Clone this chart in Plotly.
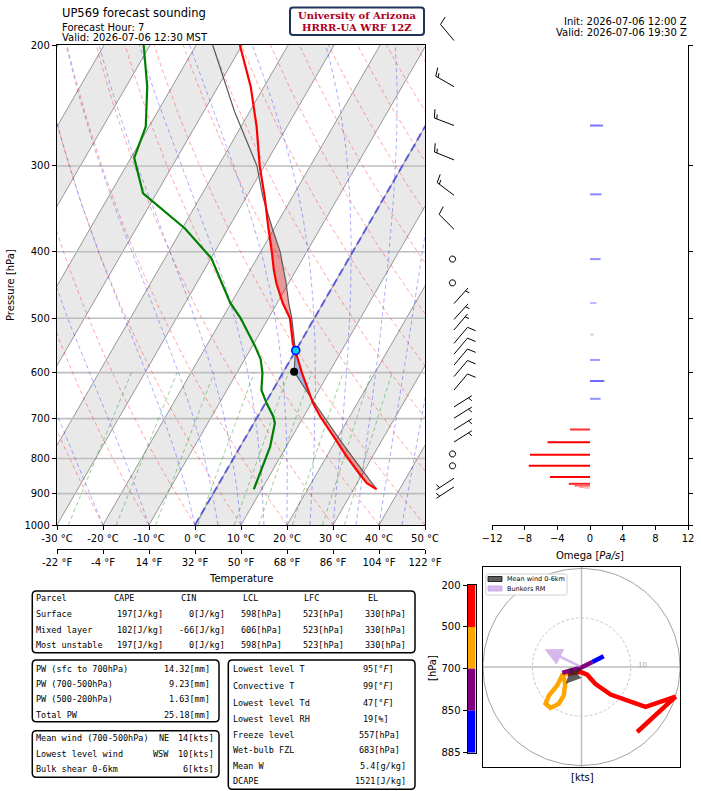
import numpy as np
import plotly.graph_objects as go

W, H = 701, 791

# sounding -------------------------------------------------------------------
p_env = [887, 869, 845, 795, 743, 695, 665, 601, 567, 544, 500, 475, 445, 425, 400, 368, 333, 300, 263, 230, 200]
t_env = [35.0, 32.1, 29.6, 24.4, 19.0, 13.6, 10.4, 4.2, 0.9, -1.5, -5.3, -8.8, -12.6, -14.9, -17.6, -21.5, -26.0, -31.0, -36.6, -42.9, -50.5]

p_dew = [887, 840, 769, 711, 695, 665, 636, 601, 574, 549, 500, 475, 425, 409, 370, 329, 292, 263, 230, 200]
td_dew = [8.3, 7.6, 6.5, 4.6, 3.4, 0.3, -2.5, -4.4, -6.5, -9.4, -16.0, -20.2, -27.3, -29.9, -39.4, -52.9, -59.3, -60.7, -65.4, -71.4]

p_parcel = [887, 850, 800, 750, 700, 650, 598, 558, 523, 500, 475, 444, 400, 370, 333, 300, 250, 200]
t_parcel = [35.0, 31.4, 26.1, 20.6, 14.9, 8.9, 2.3, 0.0, -2.9, -4.9, -7.5, -10.6, -15.8, -20.4, -26.4, -31.6, -43.3, -56.4]

lcl_p, lcl_t = 598, 2.3
frz_p, frz_t = 557, 0.0
lfc_p, el_p = 523, 330

wind_p = [197, 230, 262, 294, 331, 371, 410, 444, 476, 502, 520, 544, 564, 585, 608, 636, 673, 699, 727, 757, 788, 820, 855, 880]
wind_kt = [10, 15, 15, 15, 15, 10, 0, 0, 5, 5, 5, 10, 10, 10, 10, 10, 5, 5, 5, 5, 0, 0, 5, 5]
wind_dir = [320, 300, 291, 292, 307, 315, 0, 0, 42, 42, 40, 40, 40, 40, 40, 40, 58, 58, 58, 58, 0, 0, 237, 237]

omega_p = [262, 330, 410, 475, 528, 575, 617, 655, 726, 758, 790, 820, 851, 871, 876, 880, 883]
omega_pas = [1.6, 1.4, 1.3, 0.8, 0.5, 1.2, 1.75, 1.3, -2.45, -5.2, -7.35, -7.5, -4.9, -2.6, -1.9, -1.3, -0.7]

hodo_p = [885, 850, 800, 750, 700, 670, 640, 610, 590, 570, 555, 540, 520, 500, 470, 440, 400, 350, 300, 250, 200]
hodo_u = [4.5, 2.2, -0.2, -2.2, -3.9, -3.3, -3.6, -4.6, -6.3, -7.3, -6.6, -4.9, -3.9, -2.9, -0.2, 1.15, 2.8, 5.9, 13.0, 19.1, 11.3]
hodo_v = [2.2, 1.0, -0.2, -0.7, -1.2, -3.4, -5.75, -7.45, -8.3, -7.45, -5.75, -3.7, -1.7, -1.36, -1.0, -1.56, -3.4, -5.6, -8.1, -6.0, -13.2]
hodo_bins = [200, 500, 700, 850, 885]
hodo_colors = ["red", "orange", "purple", "blue"]
mean_wind_uv = (-3.2, -3.4)
bunkers_uv = (-7.5, 3.6)

temp_c_ticks = [-30, -20, -10, 0, 10, 20, 30, 40, 50]
temp_f_ticks = [-22, -4, 14, 32, 50, 68, 86, 104, 122]
pres_ticks = [200, 300, 400, 500, 600, 700, 800, 900, 1000]
omega_ticks = [-12, -8, -4, 0, 4, 8, 12]

parcel_head = ["Parcel", "CAPE", "CIN", "LCL", "LFC", "EL"]
parcel_rows = [
    ["Surface", "197[J/kg]", "0[J/kg]", "598[hPa]", "523[hPa]", "330[hPa]"],
    ["Mixed layer", "102[J/kg]", "-66[J/kg]", "606[hPa]", "523[hPa]", "330[hPa]"],
    ["Most unstable", "197[J/kg]", "0[J/kg]", "598[hPa]", "523[hPa]", "330[hPa]"],
]
pw_labels = ["PW (sfc to 700hPa)", "PW (700-500hPa)", "PW (500-200hPa)", "Total PW"]
pw_values = ["14.32[mm]", "9.23[mm]", "1.63[mm]", "25.18[mm]"]
wind_labels = ["Mean wind (700-500hPa)", "Lowest level wind", "Bulk shear 0-6km"]
wind_dirs_txt = ["NE", "WSW", ""]
wind_values = ["14[kts]", "10[kts]", "6[kts]"]
idx_labels = ["Lowest level T", "Convective T", "Lowest level Td", "Lowest level RH",
              "Freeze level", "Wet-bulb FZL", "Mean W", "DCAPE"]
idx_values = ["95[°<i>F</i>]", "99[°<i>F</i>]", "47[°<i>F</i>]", "19[%]",
              "557[hPa]", "683[hPa]", "5.4[g/kg]", "1521[J/kg]"]

# geometry helpers --------------------------------------------------------------
def X(px):
    return px / W

def Y(py):
    return 1 - py / H

SKEW = np.tan(np.radians(30)) * (480 / np.log(5)) / (368 / 80)
KLOG = np.log10(5) / 480  # log10(p) per pixel

def skx(t, p):
    return np.asarray(t, float) + SKEW * np.log(1000.0 / np.asarray(p, float))

def joined(lines):
    xs, ys = [], []
    for a, b in lines:
        xs += list(a) + [None]
        ys += list(b) + [None]
    return xs, ys

fig = go.Figure()
SK = dict(xaxis="x", yaxis="y")

# isotherm bands
for t1 in range(-100, 50, 20):
    pb = [1000, 1000, 200, 200, 1000]
    tb = [t1, t1 + 10, t1 + 10, t1, t1]
    fig.add_trace(go.Scatter(x=skx(tb, pb), y=pb, mode="lines", fill="toself",
                             fillcolor="rgb(233,233,233)", line=dict(width=0),
                             hoverinfo="skip", **SK))

# isotherms
iso = [(skx([t, t], [1000, 200]), [1000, 200]) for t in range(-120, 51, 10)]
xs, ys = joined(iso)
fig.add_trace(go.Scatter(x=xs, y=ys, mode="lines", line=dict(color="rgb(150,150,150)", width=1),
                         hoverinfo="skip", **SK))

# horizontal pressure lines
hl = [([-200, 200], [p, p]) for p in pres_ticks[1:-1]]
xs, ys = joined(hl)
fig.add_trace(go.Scatter(x=xs, y=ys, mode="lines", line=dict(color="rgb(190,190,190)", width=1.6),
                         hoverinfo="skip", **SK))

Rd, Cp, Lv, EPS = 287.04749, 1004.6662, 2.50084e6, 0.62195691
pg = np.linspace(1000, 200, 81)

# dry adiabats
dry = []
for t0 in range(-30, 251, 10):
    tk = (t0 + 273.15) * (pg / 1000) ** (Rd / Cp) - 273.15
    dry.append((skx(tk, pg), pg))
xs, ys = joined(dry)
fig.add_trace(go.Scatter(x=xs, y=ys, mode="lines", line=dict(color="rgba(255,0,0,0.35)", width=1, dash="4px,3px"),
                         hoverinfo="skip", **SK))

# moist adiabats
def dtdp(p, T):
    es = 6.112 * np.exp(17.67 * (T - 273.15) / (T - 29.65))
    rs = EPS * es / (p - es)
    return (Rd * T + Lv * rs) / (Cp + Lv * Lv * rs * EPS / (Rd * T * T)) / p

m0 = np.array(list(range(-30, 0, 10)) + list(range(0, 51, 5)), float) + 273.15
Tm = [m0.copy()]
T = m0.copy()
for i in range(len(pg) - 1):
    h = pg[i + 1] - pg[i]
    k1 = dtdp(pg[i], T)
    k2 = dtdp(pg[i] + h / 2, T + h / 2 * k1)
    k3 = dtdp(pg[i] + h / 2, T + h / 2 * k2)
    k4 = dtdp(pg[i] + h, T + h * k3)
    T = T + h / 6 * (k1 + 2 * k2 + 2 * k3 + k4)
    Tm.append(T.copy())
Tm = np.array(Tm) - 273.15
moist = [(skx(Tm[:, j], pg), pg) for j in range(Tm.shape[1])]
xs, ys = joined(moist)
fig.add_trace(go.Scatter(x=xs, y=ys, mode="lines", line=dict(color="rgba(0,0,255,0.32)", width=1, dash="4px,3px"),
                         hoverinfo="skip", **SK))

# mixing ratio lines
pm = np.linspace(1000, 600, 30)
mix = []
for w in [0.0004, 0.001, 0.002, 0.004, 0.007, 0.01, 0.016, 0.024, 0.032]:
    e = pm * w / (EPS + w)
    le = np.log(e / 6.112)
    td = 243.5 * le / (17.67 - le)
    mix.append((skx(td, pm), pm))
xs, ys = joined(mix)
fig.add_trace(go.Scatter(x=xs, y=ys, mode="lines", line=dict(color="rgba(0,140,0,0.4)", width=1, dash="4px,3px"),
                         hoverinfo="skip", **SK))

# 0 degC isotherm
fig.add_trace(go.Scatter(x=skx([0, 0], [1000, 200]), y=[1000, 200], mode="lines",
                         line=dict(color="rgba(60,60,220,0.75)", width=2, dash="8px,4px"),
                         hoverinfo="skip", **SK))

# CAPE / CIN shading
pp = np.exp(np.linspace(np.log(887), np.log(200), 500))

def on_grid(p_src, v_src):
    return np.interp(np.log(pp), np.log(np.array(p_src[::-1], float)), np.array(v_src[::-1], float))

te = on_grid(p_env, t_env)
tp = on_grid(p_parcel, t_parcel)
cape = (tp >= te) & (pp >= el_p)
cin = (tp < te) & (pp >= lfc_p)
for mask, col in [(cape, "rgba(225,0,0,0.35)"), (cin, "rgba(40,90,230,0.35)")]:
    idx = np.where(mask)[0]
    if len(idx) == 0:
        continue
    runs = np.split(idx, np.where(np.diff(idx) > 1)[0] + 1)
    for r in runs:
        if len(r) < 2:
            continue
        r = np.arange(max(r[0] - 1, 0), min(r[-1] + 2, len(pp)))
        px_ = np.concatenate([skx(te[r], pp[r]), skx(tp[r][::-1], pp[r][::-1])])
        py_ = np.concatenate([pp[r], pp[r][::-1]])
        fig.add_trace(go.Scatter(x=px_, y=py_, mode="lines", fill="toself", fillcolor=col,
                                 line=dict(width=0), hoverinfo="skip", **SK))

fig.add_trace(go.Scatter(x=skx(t_parcel, p_parcel), y=p_parcel, mode="lines",
                         line=dict(color="rgb(90,90,90)", width=1.2), **SK))
fig.add_trace(go.Scatter(x=skx(t_env, p_env), y=p_env, mode="lines",
                         line=dict(color="red", width=2.2), **SK))
fig.add_trace(go.Scatter(x=skx(td_dew, p_dew), y=p_dew, mode="lines",
                         line=dict(color="green", width=2.2), **SK))
fig.add_trace(go.Scatter(x=skx([lcl_t], [lcl_p]), y=[lcl_p], mode="markers",
                         marker=dict(color="black", size=8), **SK))
fig.add_trace(go.Scatter(x=skx([frz_t], [frz_p]), y=[frz_p], mode="markers",
                         marker=dict(color="rgb(0,200,230)", size=8, line=dict(color="blue", width=1.5)), **SK))

# dummy for the deg F axis
fig.add_trace(go.Scatter(x=[-30, 50], y=[1000, 1000], mode="lines", line=dict(width=0),
                         xaxis="x2", yaxis="y", hoverinfo="skip"))

# wind barbs -------------------------------------------------------------------
BX, BL = 454, 21.0
bx, by = [], []
for p0, spd, d in zip(wind_p, wind_kt, wind_dir):
    r5 = int(round(spd / 5.0) * 5)
    if r5 == 0:
        ang = np.linspace(0, 2 * np.pi, 25)
        rr = 0.15 * BL
        bx += list(BX - 1.5 + rr * np.cos(ang)) + [None]
        by += list(p0 * 10 ** (-rr * np.sin(ang) * KLOG)) + [None]
        continue
    fh, fw, sp = 0.4 * BL, 0.25 * BL, 0.125 * BL
    segs = [[(0, 0), (0, BL)]]
    off = BL
    for i in range(r5 // 10):
        segs.append([(0, off), (fh, off + fw / 2)])
        off -= sp
    if r5 % 10 >= 5:
        if off == BL:
            off -= 1.5 * sp
        segs.append([(0, off), (fh / 2, off + fw / 4)])
    th = -np.radians(d)
    for seg in segs:
        for lx, ly in seg:
            mx = lx * np.cos(th) - ly * np.sin(th)
            my = lx * np.sin(th) + ly * np.cos(th)
            bx.append(BX + mx)
            by.append(p0 * 10 ** (-my * KLOG))
        bx.append(None)
        by.append(None)
fig.add_trace(go.Scatter(x=bx, y=by, mode="lines", line=dict(color="black", width=1),
                         xaxis="x3", yaxis="y3", hoverinfo="skip"))

# omega ------------------------------------------------------------------------
for p0, om in zip(omega_p, omega_pas):
    v = max(-1.0, min(1.0, om / 3.0))
    if v >= 0:
        c = "rgb(%d,%d,255)" % (255 * (1 - v), 255 * (1 - v))
    else:
        c = "rgb(255,%d,%d)" % (255 * (1 + v), 255 * (1 + v))
    fig.add_trace(go.Scatter(x=[0, om], y=[p0, p0], mode="lines", line=dict(color=c, width=2),
                             xaxis="x4", yaxis="y4", hoverinfo="skip"))

# hodograph --------------------------------------------------------------------
HD = dict(xaxis="x5", yaxis="y5")
ang = np.linspace(0, 2 * np.pi, 181)
fig.add_trace(go.Scatter(x=[-25, 25, None, 0, 0], y=[0, 0, None, -25, 25], mode="lines",
                         line=dict(color="rgb(190,190,190)", width=1.5), hoverinfo="skip", **HD))
fig.add_trace(go.Scatter(x=20 * np.cos(ang), y=20 * np.sin(ang), mode="lines",
                         line=dict(color="rgb(160,160,160)", width=1), hoverinfo="skip", **HD))
fig.add_trace(go.Scatter(x=10 * np.cos(ang), y=10 * np.sin(ang), mode="lines",
                         line=dict(color="rgb(200,200,200)", width=1, dash="3px,2px"), hoverinfo="skip", **HD))
hp = np.array(hodo_p)
for i, col in enumerate(hodo_colors):
    lo, hi = hodo_bins[i], hodo_bins[i + 1]
    sel = (hp >= lo) & (hp <= hi)
    fig.add_trace(go.Scatter(x=np.array(hodo_u)[sel], y=np.array(hodo_v)[sel], mode="lines",
                             line=dict(color=col, width=4.5), hoverinfo="skip", **HD))

# colorbar of the hodograph layers
fig.add_trace(go.Bar(x=[0] * len(hodo_colors), y=[1] * len(hodo_colors), base=list(range(len(hodo_colors))),
                     width=1, marker=dict(color=hodo_colors, line=dict(width=0)),
                     xaxis="x6", yaxis="y6", hoverinfo="skip"))

# annotations & shapes -----------------------------------------------------------
ann, shp = [], []

def note(x, y, text, size=10, xa="left", family="DejaVu Sans", color="black", **kw):
    ann.append(dict(x=X(x), y=Y(y), xref="paper", yref="paper", text=text, showarrow=False,
                    xanchor=xa, yanchor="middle", borderpad=0,
                    font=dict(family=family, size=size, color=color), **kw))

def rbox(x0, y0, x1, y1, r=4, lc="black", lw=1.5, fill="white"):
    path = (f"M {X(x0 + r)},{Y(y0)} L {X(x1 - r)},{Y(y0)} Q {X(x1)},{Y(y0)} {X(x1)},{Y(y0 + r)} "
            f"L {X(x1)},{Y(y1 - r)} Q {X(x1)},{Y(y1)} {X(x1 - r)},{Y(y1)} "
            f"L {X(x0 + r)},{Y(y1)} Q {X(x0)},{Y(y1)} {X(x0)},{Y(y1 - r)} "
            f"L {X(x0)},{Y(y0 + r)} Q {X(x0)},{Y(y0)} {X(x0 + r)},{Y(y0)} Z")
    shp.append(dict(type="path", xref="paper", yref="paper", path=path,
                    line=dict(color=lc, width=lw), fillcolor=fill, layer="above"))

note(61, 12.5, "UP569 forecast sounding", size=11.5)
note(61, 27, "Forecast Hour: 7", size=10)
note(61, 38, "Valid: 2026-07-06 12:30 MST", size=10)
note(688, 21.5, "Init: 2026-07-06 12:00 Z", size=10, xa="right")
note(688, 33, "Valid: 2026-07-06 19:30 Z", size=10, xa="right")

rbox(290, 7.5, 424, 35, r=3, lc="rgb(30,50,90)", lw=2)
note(357, 15.5, "<b>University of Arizona</b>", size=10, xa="center", family="DejaVu Serif", color="rgb(170,0,30)")
note(357, 27, "<b>HRRR-UA WRF 12Z</b>", size=10, xa="center", family="DejaVu Serif", color="rgb(170,0,30)")

note(10, 285, "Pressure [hPa]", size=10, xa="center", textangle=-90)
note(241, 578, "Temperature", size=10, xa="center")
note(590, 555, "Omega [<i>Pa/s</i>]", size=10, xa="center")

# tables
MONO = "DejaVu Sans Mono"
FS = 8.5
rbox(32.3, 591, 415, 652.7)
head_x = [35, 113.3, 180, 241.7, 303.3, 366.7]
val_x = [163.5, 225.5, 283, 344.5, 406.5]
for hx, h in zip(head_x, parcel_head):
    note(hx, 598.3, h, size=FS, family=MONO)
for ry, row in zip([614, 629.5, 645], parcel_rows):
    note(35, ry, row[0], size=FS, family=MONO)
    for vx, v in zip(val_x, row[1:]):
        note(vx, ry, v, size=FS, family=MONO, xa="right")

rbox(32.3, 660, 219, 721.7)
for ry, lab, val in zip([668.7, 683.7, 699, 715], pw_labels, pw_values):
    note(35, ry, lab, size=FS, family=MONO)
    note(210.5, ry, val, size=FS, family=MONO, xa="right")

rbox(32.3, 730.7, 219, 777.3)
for ry, lab, dd, val in zip([738.3, 754, 769.3], wind_labels, wind_dirs_txt, wind_values):
    note(35, ry, lab, size=FS, family=MONO)
    if dd:
        note(169.5, ry, dd, size=FS, family=MONO, xa="right")
    note(214.5, ry, val, size=FS, family=MONO, xa="right")

rbox(228.3, 660, 415, 789.3)
idx_y = [669.3, 686, 702.7, 718.7, 734.7, 750, 765.7, 781]
idx_right = [395.5, 395.5, 395.5, 390, 400.5, 400.5, 406.5, 406.5]
for ry, lab, val, rx in zip(idx_y, idx_labels, idx_values, idx_right):
    note(231.7, ry, lab, size=FS, family=MONO)
    note(rx, ry, val, size=FS, family=MONO, xa="right")

# hodograph extras
note(637, 665, "10", size=7, color="rgb(170,170,170)")
note(582, 777, "[kts]", size=10, xa="center")
note(432, 668, "[hPa]", size=10, xa="center", textangle=-90)
ann.append(dict(x=mean_wind_uv[0], y=mean_wind_uv[1], ax=0, ay=0, xref="x5", yref="y5",
                axref="x5", ayref="y5", text="", showarrow=True, arrowhead=2, arrowsize=1,
                arrowwidth=3, arrowcolor="rgba(40,40,40,0.75)", standoff=0))
ann.append(dict(x=bunkers_uv[0], y=bunkers_uv[1], ax=0, ay=0, xref="x5", yref="y5",
                axref="x5", ayref="y5", text="", showarrow=True, arrowhead=2, arrowsize=1.4,
                arrowwidth=2.5, arrowcolor="rgba(200,160,230,0.75)", standoff=0))
rbox(485.7, 574, 567, 595, r=2, lc="rgb(210,210,210)", lw=1)
shp.append(dict(type="rect", xref="paper", yref="paper", x0=X(488), x1=X(502), y0=Y(581.5), y1=Y(576.5),
                fillcolor="rgba(40,40,40,0.75)", line=dict(color="black", width=0.8), layer="above"))
shp.append(dict(type="rect", xref="paper", yref="paper", x0=X(488), x1=X(502), y0=Y(591), y1=Y(586),
                fillcolor="rgba(200,160,230,0.75)", line=dict(color="rgba(200,160,230,1)", width=0.8), layer="above"))
note(506, 579, "Mean wind 0-6km", size=6.5)
note(506, 588.5, "Bunkers RM", size=6.5)

AX = dict(showgrid=False, zeroline=False, linecolor="black", tickcolor="black", automargin=False,
          tickfont=dict(family="DejaVu Sans", size=10, color="black"))
sky = dict(domain=[Y(525), Y(45)], type="log", range=[3, np.log10(200)])

fig.update_layout(
    template="none",
    width=W, height=H, margin=dict(l=0, r=0, t=0, b=0, pad=0), autosize=False,
    paper_bgcolor="white", plot_bgcolor="rgba(0,0,0,0)", showlegend=False,
    font=dict(family="DejaVu Sans", size=10, color="black"),
    xaxis=dict(domain=[X(57), X(425)], range=[-30, 50], anchor="y", tickvals=temp_c_ticks,
               ticktext=[f"{t} °C" for t in temp_c_ticks], ticks="outside", ticklen=4,
               showline=True, mirror=True, linewidth=1.3, **AX),
    yaxis=dict(anchor="x", tickvals=pres_ticks, ticktext=[str(p) for p in pres_ticks],
               ticks="outside", ticklen=4, showline=True, mirror=True, linewidth=1.3, **sky, **AX),
    xaxis2=dict(overlaying="x", anchor="free", position=Y(549), side="bottom", range=[-30, 50],
                tickvals=temp_c_ticks, ticktext=[f"{f} °F" for f in temp_f_ticks], ticks="outside",
                ticklen=4, showline=True, linewidth=1.3, **AX),
    xaxis3=dict(domain=[X(427), X(492)], range=[427, 492], anchor="y3", visible=False),
    yaxis3=dict(domain=[Y(525), 1], type="log", range=[3, np.log10(200) - 45 * KLOG],
                anchor="x3", visible=False),
    xaxis4=dict(domain=[X(492), X(688)], range=[-12, 12], anchor="y4", tickvals=omega_ticks,
                ticktext=[str(t).replace("-", "−") for t in omega_ticks], ticks="outside", ticklen=4,
                showline=True, linewidth=1.3, **AX),
    yaxis4=dict(anchor="x4", side="right", tickvals=pres_ticks, showticklabels=False,
                ticks="outside", ticklen=4, showline=True, linewidth=1.3, **sky, **AX),
    xaxis5=dict(domain=[X(483), X(680)], range=[-20, 20], anchor="y5", showticklabels=False,
                ticks="", showline=True, mirror=True, linewidth=1.3, **AX),
    yaxis5=dict(domain=[Y(767), Y(567)], range=[-20.3, 20.3], anchor="x5", showticklabels=False,
                ticks="", showline=True, mirror=True, linewidth=1.3, **AX),
    xaxis6=dict(domain=[X(467.5), X(475.5)], range=[-0.5, 0.5], anchor="y6", showticklabels=False,
                ticks="", showline=True, mirror=True, linewidth=1, **AX),
    yaxis6=dict(domain=[Y(752.7), Y(585)], range=[len(hodo_colors), 0], anchor="x6",
                tickvals=list(range(len(hodo_bins))), ticktext=[str(b) for b in hodo_bins],
                ticks="outside", ticklen=4, showline=True, mirror=True, linewidth=1, **AX),
    annotations=ann, shapes=shp,
)

fig.write_html("out.html", config={"displayModeBar": False},
               post_script="document.body.style.margin='0px';document.body.style.overflow='hidden';")
